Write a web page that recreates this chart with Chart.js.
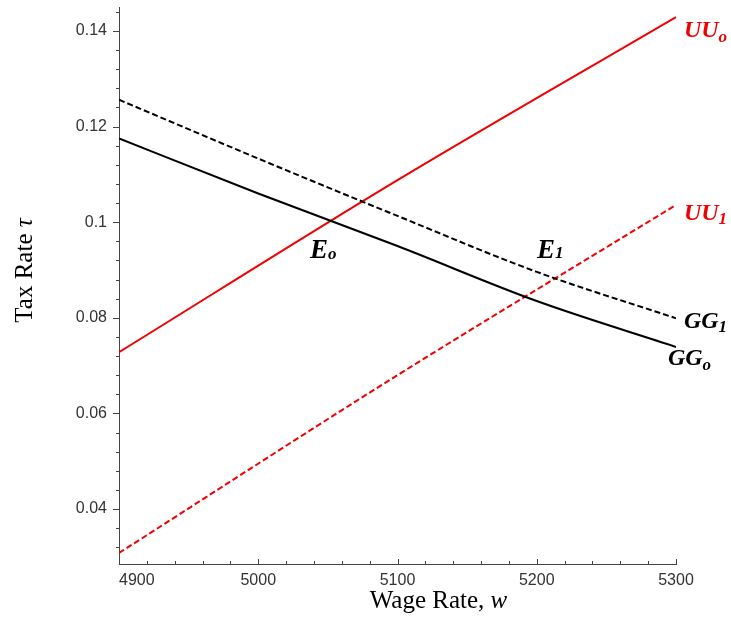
<!DOCTYPE html>
<html>
<head>
<meta charset="utf-8">
<script src="https://cdn.jsdelivr.net/npm/chart.js@4.4.1/dist/chart.umd.min.js"></script>
<style>
  html, body { margin: 0; padding: 0; background: #fff; }
  canvas { display: block; }
</style>
</head>
<body>
<canvas id="chart" width="731" height="636"></canvas>
<script>
// Wage rate (x) and tax rate (y)
const wageGG = [4900, 5000, 5100, 5200, 5300];
const gg0 = [0.1175, 0.1060, 0.0950, 0.0835, 0.0739];
const gg1 = [0.1256, 0.1133, 0.1013, 0.0896, 0.0799];

const wageUU = [4900, 5100, 5300];
const uu0 = [0.0728, 0.1088, 0.1429];
const uu1 = [0.0308, 0.0680, 0.1036];

const wageRange = [4900, 5300];
const tauRange = [0.0285, 0.145];

const RED = '#f00000';
const SANS = '"Liberation Sans", Arial, sans-serif';
const SERIF = '"Liberation Serif", "Times New Roman", serif';

const toPoints = (xs, ys) => xs.map((x, i) => ({ x: x, y: ys[i] }));

// major tick test: every 0.02 on tau, every 100 on wage
const isMajorTau = v => Math.round(v * 1000) % 20 === 0;
const isMajorWage = v => Math.round(v) % 100 === 0;

// labels next to the curves, in data coordinates
const curveLabels = [
    { main: 'UU', sub: 'o', w: 5305.7, tau: 0.1387, color: RED, drop: 5, size: 24 },
    { main: 'UU', sub: '1', w: 5305.7, tau: 0.1004, color: RED, drop: 4, size: 24 },
    { main: 'GG', sub: '1', w: 5305.7, tau: 0.0778, color: '#000', drop: 4, size: 24 },
    { main: 'GG', sub: 'o', w: 5294.2, tau: 0.0701, color: '#000', drop: 5, size: 24 },
    { main: 'E', sub: 'o', w: 5037.2, tau: 0.0925, color: '#000', drop: 1, size: 27 },
    { main: 'E', sub: '1', w: 5200.2, tau: 0.0925, color: '#000', drop: 0, size: 27 }
];

const decor = {
    id: 'decor',
    beforeDraw(chart) {
        const ctx = chart.ctx;
        ctx.save();
        ctx.fillStyle = '#fff';
        ctx.fillRect(0, 0, chart.width, chart.height);
        ctx.restore();
    },
    afterDraw(chart) {
        const { ctx, chartArea, scales: { x, y } } = chart;
        ctx.save();

        // tick marks
        ctx.strokeStyle = '#444';
        ctx.lineWidth = 1;
        y.ticks.forEach(t => {
            const py = Math.round(y.getPixelForValue(t.value)) + 0.5;
            const len = isMajorTau(t.value) ? 6 : 3;
            ctx.beginPath();
            ctx.moveTo(chartArea.left - len, py);
            ctx.lineTo(chartArea.left, py);
            ctx.stroke();
        });
        x.ticks.forEach(t => {
            const px = Math.round(x.getPixelForValue(t.value)) + 0.5;
            const len = isMajorWage(t.value) ? 5 : 3;
            ctx.beginPath();
            ctx.moveTo(px, chartArea.bottom);
            ctx.lineTo(px, chartArea.bottom - len);
            ctx.stroke();
        });

        // x tick labels (first one starts at the axis)
        ctx.font = '16px ' + SANS;
        ctx.fillStyle = '#333';
        ctx.textBaseline = 'alphabetic';
        x.ticks.forEach((t, i) => {
            if (!isMajorWage(t.value)) return;
            ctx.textAlign = i === 0 ? 'left' : 'center';
            ctx.fillText(String(t.value), x.getPixelForValue(t.value), chartArea.bottom + 21);
        });

        // x axis title: "Wage Rate, w"
        ctx.fillStyle = '#000';
        ctx.textAlign = 'left';
        const xa = 'Wage Rate, ';
        ctx.font = '25px ' + SERIF;
        const wa = ctx.measureText(xa).width;
        ctx.font = 'italic 25px ' + SERIF;
        const wb = ctx.measureText('w').width;
        const sx = (chartArea.left + chartArea.right) / 2 + 41 - (wa + wb) / 2;
        ctx.font = '25px ' + SERIF;
        ctx.fillText(xa, sx, chartArea.bottom + 44);
        ctx.font = 'italic 25px ' + SERIF;
        ctx.fillText('w', sx + wa, chartArea.bottom + 44);

        // y axis title: "Tax Rate τ"
        ctx.save();
        ctx.translate(32, (chartArea.top + chartArea.bottom) / 2 - 15);
        ctx.rotate(-Math.PI / 2);
        const ya = 'Tax Rate ';
        ctx.font = '25px ' + SERIF;
        const ha = ctx.measureText(ya).width;
        ctx.font = 'italic 25px ' + SERIF;
        const hb = ctx.measureText('\u03c4').width;
        const sy = -(ha + hb) / 2;
        ctx.font = '25px ' + SERIF;
        ctx.fillText(ya, sy, 0);
        ctx.font = 'italic 25px ' + SERIF;
        ctx.fillText('\u03c4', sy + ha, 0);
        ctx.restore();

        // curve labels
        curveLabels.forEach(l => {
            const px = x.getPixelForValue(l.w);
            const py = y.getPixelForValue(l.tau);
            ctx.fillStyle = l.color;
            ctx.font = 'bold italic ' + l.size + 'px ' + SERIF;
            ctx.fillText(l.main, px, py);
            const mw = ctx.measureText(l.main).width;
            ctx.font = 'bold italic 17px ' + SERIF;
            ctx.fillText(l.sub, px + mw, py + l.drop);
        });

        ctx.restore();
    }
};

const lineStyle = (color, dash) => ({
    borderColor: color,
    borderWidth: 2,
    borderDash: dash,
    pointRadius: 0,
    fill: false,
    cubicInterpolationMode: 'monotone'
});

new Chart(document.getElementById('chart'), {
    type: 'line',
    data: {
        datasets: [
            { label: 'GGo', data: toPoints(wageGG, gg0), ...lineStyle('#000', []) },
            { label: 'GG1', data: toPoints(wageGG, gg1), ...lineStyle('#000', [6, 3]) },
            { label: 'UUo', data: toPoints(wageUU, uu0), ...lineStyle(RED, []) },
            { label: 'UU1', data: toPoints(wageUU, uu1), ...lineStyle(RED, [6, 3]) }
        ]
    },
    options: {
        responsive: false,
        animation: false,
        layout: {
            padding: { top: 7, right: 55, left: 0, bottom: 0 }
        },
        plugins: {
            legend: { display: false },
            tooltip: { enabled: false }
        },
        scales: {
            x: {
                type: 'linear',
                min: wageRange[0],
                max: wageRange[1],
                afterFit: s => { s.height = 72; s.paddingLeft = 0; s.paddingRight = 0; },
                grid: { display: true, drawOnChartArea: false, drawTicks: false },
                border: { display: true, color: '#444', width: 1 },
                ticks: {
                    display: false,
                    stepSize: 20,
                    autoSkip: false,
                    includeBounds: false,
                    maxTicksLimit: 1000
                }
            },
            y: {
                type: 'linear',
                min: tauRange[0],
                max: tauRange[1],
                afterFit: s => { s.width = 119; s.paddingTop = 0; s.paddingBottom = 0; },
                grid: { display: true, drawOnChartArea: false, drawTicks: false },
                border: { display: true, color: '#444', width: 1 },
                ticks: {
                    stepSize: 0.004,
                    autoSkip: false,
                    includeBounds: false,
                    maxTicksLimit: 1000,
                    padding: 12,
                    color: '#333',
                    font: { family: SANS, size: 16 },
                    callback: v => isMajorTau(v) ? String(Number(v.toFixed(2))) : ''
                }
            }
        }
    },
    plugins: [decor]
});
</script>
</body>
</html>
